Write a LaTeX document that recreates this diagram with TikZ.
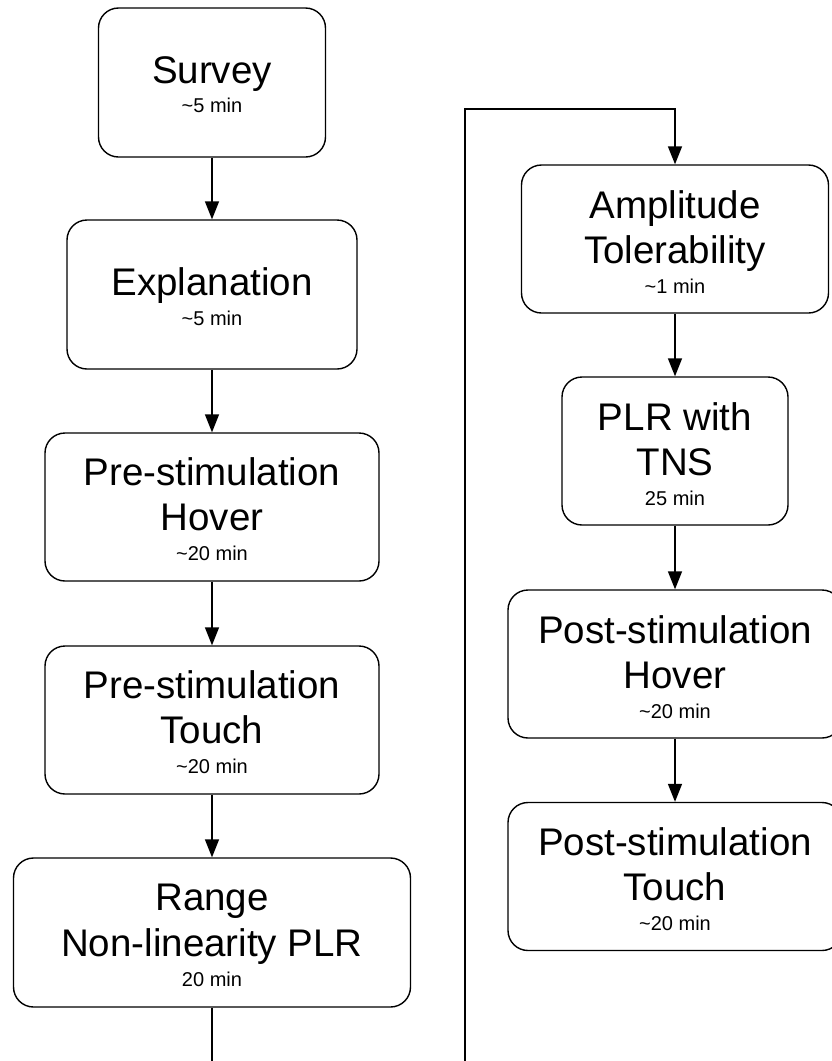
\documentclass[tikz,border=0pt]{standalone}
\usepackage{fontspec}
\setmainfont{Liberation Sans}
\usetikzlibrary{arrows.meta}
\tikzset{
  stage/.style={draw=black, line width=1.4pt, rounded corners=20pt, fill=white, inner sep=0pt, anchor=center},
  bigtxt/.style={anchor=base, inner sep=0pt, font=\fontsize{38.5}{46}\selectfont},
  smalltxt/.style={anchor=base, inner sep=0pt, font=\fontsize{20}{23}\selectfont},
  flow/.style={draw=black, line width=1.4pt, -{Triangle[length=18pt,width=14pt]}},
  wire/.style={draw=black, line width=1.4pt}
}
\begin{document}
\begin{tikzpicture}[x=1pt,y=-1pt]
\useasboundingbox (0,0) rectangle (831,1061);
% left column
\node[stage, minimum width=227pt, minimum height=149pt] (survey) at (212,82.5) {};
\node[stage, minimum width=290pt, minimum height=149pt] (expl) at (212,294.5) {};
\node[stage, minimum width=334pt, minimum height=148pt] (prehover) at (212,507) {};
\node[stage, minimum width=334pt, minimum height=148pt] (pretouch) at (212,720) {};
\node[stage, minimum width=397pt, minimum height=149pt] (range) at (212,932.5) {};
% right column
\node[stage, minimum width=307pt, minimum height=148pt] (amp) at (675,239) {};
\node[stage, minimum width=226pt, minimum height=148pt] (plr) at (675,451) {};
\node[stage, minimum width=334pt, minimum height=148pt] (posthover) at (675,664) {};
\node[stage, minimum width=334pt, minimum height=148pt] (posttouch) at (675,876.5) {};
% texts
\node[bigtxt] (survey1) at (212,83) {Survey};
\node[smalltxt] (survey2) at (212,112.5) {\textasciitilde5 min};
\node[bigtxt] (expl1) at (212,295) {Explanation};
\node[smalltxt] (expl2) at (212,325) {\textasciitilde5 min};
\node[bigtxt] (prehover1) at (212,485) {Pre-stimulation};
\node[bigtxt] (prehover2) at (212,530) {Hover};
\node[smalltxt] (prehover3) at (212,560.5) {\textasciitilde20 min};
\node[bigtxt] (pretouch1) at (212,698) {Pre-stimulation};
\node[bigtxt] (pretouch2) at (212,743) {Touch};
\node[smalltxt] (pretouch3) at (212,773.5) {\textasciitilde20 min};
\node[bigtxt] (range1) at (212,910) {Range};
\node[bigtxt] (range2) at (212,956) {Non-linearity PLR};
\node[smalltxt] (range3) at (212,986) {20 min};
\node[bigtxt] (amp1) at (675,218) {Amplitude};
\node[bigtxt] (amp2) at (675,263) {Tolerability};
\node[smalltxt] (amp3) at (675,293) {\textasciitilde1 min};
\node[bigtxt] (plr1) at (675,430) {PLR with};
\node[bigtxt] (plr2) at (675,475) {TNS};
\node[smalltxt] (plr3) at (675,505) {25 min};
\node[bigtxt] (posthover1) at (675,643) {Post-stimulation};
\node[bigtxt] (posthover2) at (675,688) {Hover};
\node[smalltxt] (posthover3) at (675,718) {\textasciitilde20 min};
\node[bigtxt] (posttouch1) at (675,855) {Post-stimulation};
\node[bigtxt] (posttouch2) at (675,900) {Touch};
\node[smalltxt] (posttouch3) at (675,930) {\textasciitilde20 min};
% connectors
\draw[flow] (survey) -- (expl);
\draw[flow] (expl) -- (prehover);
\draw[flow] (prehover) -- (pretouch);
\draw[flow] (pretouch) -- (range);
\coordinate (lbot) at (211,1075);
\draw[wire] (range.south) -- (range.south |- lbot);
\coordinate (rbot) at (465,1075);
\coordinate (rtop) at (465,109);
\draw[flow] (rbot) -- (rtop) -| (amp.north);
\draw[flow] (amp) -- (plr);
\draw[flow] (plr) -- (posthover);
\draw[flow] (posthover) -- (posttouch);
\end{tikzpicture}
\end{document}
